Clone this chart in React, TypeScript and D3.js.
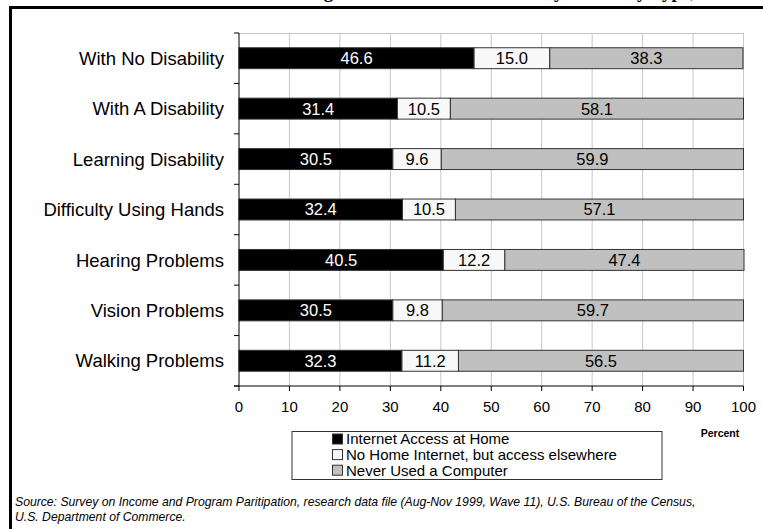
import React from "react";
import * as d3 from "d3";

const categories = [
  "With No Disability",
  "With A Disability",
  "Learning Disability",
  "Difficulty Using Hands",
  "Hearing Problems",
  "Vision Problems",
  "Walking Problems",
];
const internetHome = [46.6, 31.4, 30.5, 32.4, 40.5, 30.5, 32.3];
const noHomeElsewhere = [15.0, 10.5, 9.6, 10.5, 12.2, 9.8, 11.2];
const neverUsed = [38.3, 58.1, 59.9, 57.1, 47.4, 59.7, 56.5];
const seriesNames = [
  "Internet Access at Home",
  "No Home Internet, but access elsewhere",
  "Never Used a Computer",
];
const xTicks = [0, 10, 20, 30, 40, 50, 60, 70, 80, 90, 100];
const titleText = "Internet Usage at Home and Elsewhere by Disability Type, 1999";
const sourceLines = [
  "Source: Survey on Income and Program Paritipation, research data file (Aug-Nov 1999, Wave 11),  U.S. Bureau of the Census,",
  "U.S. Department of Commerce.",
];

const W = 763;
const H = 529;
const plot = { left: 239, right: 743.5, top: 33, bottom: 386 };
const fills = ["#000000", "#f8f8f8", "#c0c0c0"];
const textFills = ["#ffffff", "#000000", "#000000"];
const font = "Arial, 'Liberation Sans', Helvetica, sans-serif";

export default function App() {
  const x = d3.scaleLinear().domain([0, 100]).range([plot.left, plot.right]);
  const y = d3
    .scaleBand<string>()
    .domain(categories)
    .range([plot.top, plot.bottom])
    .paddingInner(0.585)
    .paddingOuter(0.2925);
  const rows = categories.map((c, i) => ({
    cat: c,
    v0: internetHome[i],
    v1: noHomeElsewhere[i],
    v2: neverUsed[i],
  }));
  const stack = d3.stack<any>().keys(["v0", "v1", "v2"]);
  const stacked = stack(rows);
  const step = (plot.bottom - plot.top) / categories.length;
  const boundaries = d3.range(categories.length + 1).map((i) => plot.top + i * step);

  return (
    <svg
      width={W}
      height={H}
      style={{ position: "absolute", left: 0, top: 0, background: "#fff" }}
    >
      <rect x={0} y={0} width={W} height={H} fill="#fff" />
      <text
        x={480}
        y={-2}
        textAnchor="middle"
        fontFamily="'Liberation Serif', 'Times New Roman', serif"
        fontWeight="bold"
        fontSize={19}
      >
        {titleText}
      </text>
      <rect x={10.5} y={7.5} width={800} height={600} fill="none" stroke="#000" strokeWidth={3} />

      {/* grid */}
      {xTicks.slice(1).map((t) => (
        <line
          key={"g" + t}
          x1={x(t)}
          x2={x(t)}
          y1={plot.top}
          y2={plot.bottom}
          stroke="#c8c8c8"
          strokeWidth={1}
        />
      ))}
      <line x1={plot.left} x2={plot.right} y1={plot.top + 0.5} y2={plot.top + 0.5} stroke="#c8c8c8" />

      {/* bars */}
      {stacked.map((s, si) =>
        s.map((d, i) => {
          const y0 = y(categories[i])!;
          const bw = x(d[1]) - x(d[0]);
          const val = [internetHome, noHomeElsewhere, neverUsed][si][i];
          return (
            <g key={si + "-" + i}>
              <rect
                x={x(d[0])}
                y={y0}
                width={bw}
                height={y.bandwidth()}
                fill={fills[si]}
                stroke="#333"
                strokeWidth={1}
              />
              <text
                x={x(d[0]) + bw / 2}
                y={y0 + y.bandwidth() / 2}
                dy="0.36em"
                textAnchor="middle"
                fontFamily={font}
                fontSize={16.5}
                fill={textFills[si]}
              >
                {val.toFixed(1)}
              </text>
            </g>
          );
        })
      )}

      {/* y axis */}
      <line x1={plot.left} x2={plot.left} y1={plot.top} y2={plot.bottom} stroke="#000" />
      {boundaries.map((b, i) => (
        <line key={"yt" + i} x1={plot.left - 5} x2={plot.left} y1={b} y2={b} stroke="#000" />
      ))}
      {categories.map((c) => (
        <text
          key={"yl" + c}
          x={224}
          y={y(c)! + y.bandwidth() / 2}
          dy="0.36em"
          textAnchor="end"
          fontFamily={font}
          fontSize={18.5}
          fill="#000"
        >
          {c}
        </text>
      ))}

      {/* x axis */}
      <line x1={plot.left - 5} x2={plot.right} y1={plot.bottom} y2={plot.bottom} stroke="#000" />
      {xTicks.map((t) => (
        <g key={"xt" + t}>
          <line x1={x(t)} x2={x(t)} y1={plot.bottom} y2={plot.bottom + 5} stroke="#000" />
          <text
            x={x(t)}
            y={407}
            dy="0.36em"
            textAnchor="middle"
            fontFamily={font}
            fontSize={15}
          >
            {t}
          </text>
        </g>
      ))}
      <text x={720} y={433} dy="0.36em" textAnchor="middle" fontFamily={font} fontWeight="bold" fontSize={10.5}>
        Percent
      </text>

      {/* legend */}
      <rect x={292} y={431.5} width={370} height={48} fill="#fff" stroke="#333" strokeWidth={1} />
      {seriesNames.map((n, i) => (
        <g key={"lg" + i}>
          <rect
            x={332.5}
            y={439 + i * 15.6 - 5}
            width={10}
            height={10}
            fill={fills[i]}
            stroke="#333"
          />
          <text x={346} y={439 + i * 15.6} dy="0.36em" fontFamily={font} fontSize={15}>
            {n}
          </text>
        </g>
      ))}

      {/* source */}
      {sourceLines.map((l, i) => (
        <text
          key={"src" + i}
          x={15}
          y={502 + i * 15}
          dy="0.36em"
          fontFamily={font}
          fontStyle="italic"
          fontSize={12.2}
        >
          {l}
        </text>
      ))}
    </svg>
  );
}
